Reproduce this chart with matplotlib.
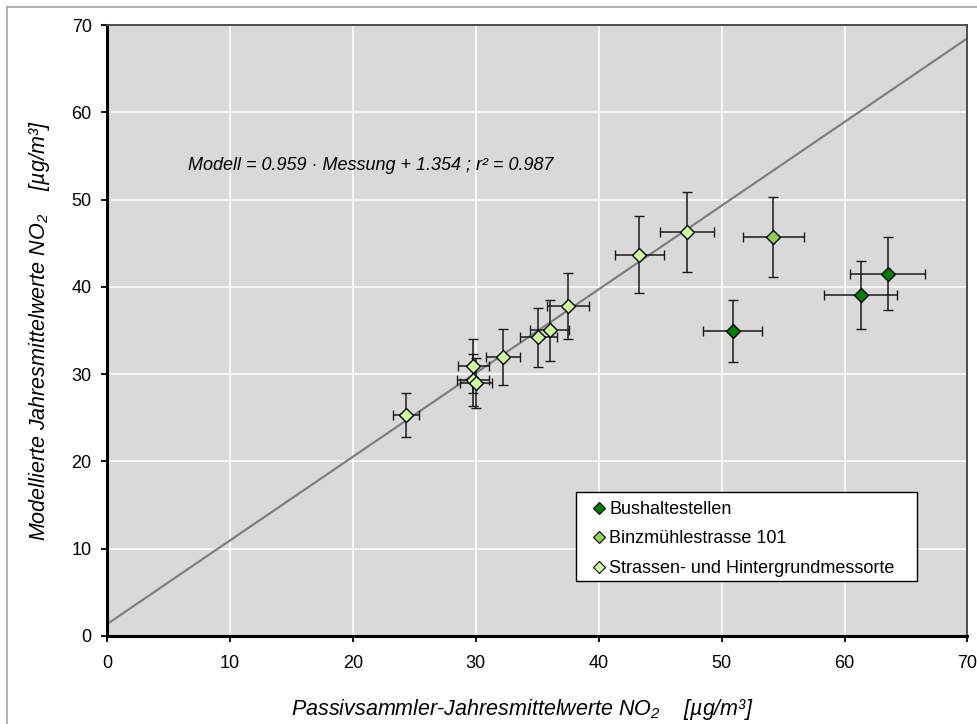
import matplotlib
matplotlib.use("Agg")
import matplotlib.pyplot as plt
from matplotlib.lines import Line2D
from matplotlib.patches import Rectangle

plt.rcParams['font.family'] = ['Liberation Sans', 'DejaVu Sans']
plt.rcParams['mathtext.fontset'] = 'custom'
plt.rcParams['mathtext.rm'] = 'Liberation Sans:italic'
plt.rcParams['mathtext.it'] = 'Liberation Sans:italic'

# --- data ---
bus_x = [50.9, 61.3, 63.5]
bus_y = [34.9, 39.1, 41.5]
bus_xerr = [2.4, 3.0, 3.05]
bus_yerr = [3.55, 3.9, 4.2]

binz_x = [54.2]
binz_y = [45.7]
binz_xerr = [2.5]
binz_yerr = [4.55]

str_x = [24.3, 29.8, 29.8, 30.0, 32.2, 35.1, 36.0, 37.5, 43.3, 47.2]
str_y = [25.3, 30.9, 29.3, 29.0, 32.0, 34.2, 35.05, 37.8, 43.7, 46.3]
str_xerr = [1.05, 1.25, 1.3, 1.3, 1.4, 1.5, 1.6, 1.7, 2.0, 2.2]
str_yerr = [2.55, 3.1, 3.0, 2.9, 3.2, 3.4, 3.5, 3.8, 4.4, 4.6]

slope = 0.959
intercept = 1.354
r2 = 0.987

labels = ["Bushaltestellen", "Binzmühlestrasse 101", "Strassen- und Hintergrundmessorte"]
colors = ["#008000", "#92D050", "#CCFF99"]

W, H = 977, 724
AX_L, AX_R, AX_T, AX_B = 107, 967.5, 25, 636
AW, AH = AX_R - AX_L, AX_B - AX_T

fig = plt.figure(figsize=(W/100, H/100), dpi=100)
ax = fig.add_axes([AX_L/W, 1-AX_B/H, AW/W, AH/H])
ax.set_facecolor("#D9D9D9")

ax.set_xlim(0, 70)
ax.set_ylim(0, 70)
ax.set_xticks(range(0, 71, 10))
ax.set_yticks(range(0, 71, 10))
ax.grid(True, color="white", linewidth=1.1)
ax.set_axisbelow(True)

# regression line
lx = [0, 70]
ax.plot(lx, [slope*v + intercept for v in lx], color="#808080", lw=1.6, zorder=2)

for xs, ys, xe, ye, c in [
    (str_x, str_y, str_xerr, str_yerr, colors[2]),
    (binz_x, binz_y, binz_xerr, binz_yerr, colors[1]),
    (bus_x, bus_y, bus_xerr, bus_yerr, colors[0]),
]:
    ax.errorbar(xs, ys, xerr=xe, yerr=ye, fmt='D', color=c, mec="black", mew=1.0,
                ms=7.6, ecolor="#1a1a1a", elinewidth=1.1, capsize=3.8, capthick=1.1, zorder=3)

# legend box
def px2ax(x, y):
    return (x - AX_L) / AW, (AX_B - y) / AH

bx0, by0 = px2ax(576, 581)
bx1, by1 = px2ax(917, 492)
ax.add_patch(Rectangle((bx0, by0), bx1 - bx0, by1 - by0, transform=ax.transAxes,
                       facecolor='white', edgecolor='black', lw=1.0, zorder=5, clip_on=False))

legend_handles = [Line2D([], [], marker='D', ls='none', color=c, mec='black', mew=0.8, ms=6)
                  for c in colors]
leg = ax.legend(legend_handles, labels, loc='upper left',
                bbox_to_anchor=px2ax(591.5, 501), borderaxespad=0, borderpad=0,
                fontsize=13, frameon=False, handlelength=0.8, handletextpad=0.17,
                labelspacing=0.69)
leg.set_zorder(6)

ax.text(6.55, 53.95, "Modell = %.3f · Messung + %.3f ; r² = %.3f" % (slope, intercept, r2),
        fontsize=13, style='italic', ha='left', va='center')

for s in ['left', 'bottom']:
    ax.spines[s].set_linewidth(2.2)
    ax.spines[s].set_color('black')
for s in ['top', 'right']:
    ax.spines[s].set_linewidth(1.3)
    ax.spines[s].set_color('#404040')

ax.tick_params(axis='both', direction='out', length=4, width=1.3, labelsize=13, color='black')
ax.tick_params(axis='x', pad=10)
ax.tick_params(axis='y', pad=7)

ax.set_xlabel("Passivsammler-Jahresmittelwerte NO$_2$    [µg/m³]", fontsize=15.5, style='italic')
ax.xaxis.set_label_coords((522-AX_L)/AW, -(709-AX_B)/AH)
ax.xaxis.label.set_va('center')
ax.set_ylabel("Modellierte Jahresmittelwerte NO$_2$    [µg/m³]", fontsize=15.5, style='italic')
ax.yaxis.set_label_coords(-(AX_L-40)/AW, 0.5)
ax.yaxis.label.set_va('center')

# outer border (chart area)
fig.add_artist(Line2D([7/W, 1], [1-7/H, 1-7/H], color="#A6A6A6", lw=1.2, transform=fig.transFigure))
fig.add_artist(Line2D([7/W, 7/W], [0, 1-7/H], color="#A6A6A6", lw=1.2, transform=fig.transFigure))

fig.savefig("out.png", dpi=100)
